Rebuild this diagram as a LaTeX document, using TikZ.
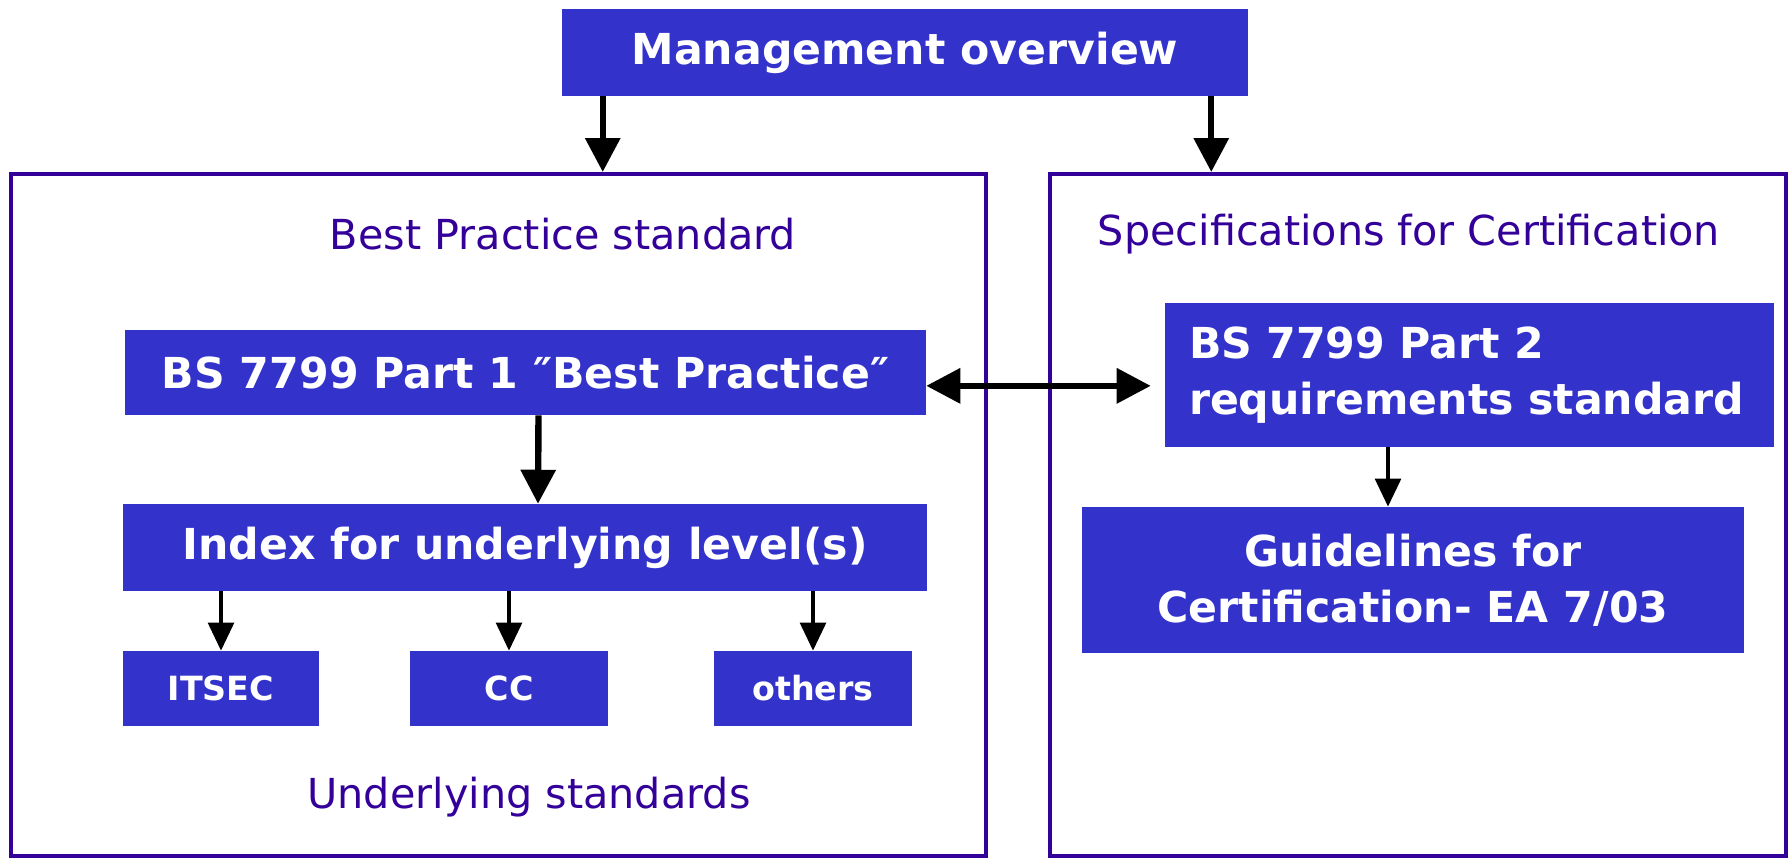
\documentclass[tikz,border=0pt]{standalone}
\usepackage{fontspec}
\setmainfont{DejaVu Sans}
\usetikzlibrary{arrows.meta}
\definecolor{boxblue}{HTML}{3333CC}
\definecolor{framecol}{HTML}{330099}
\begin{document}
\begin{tikzpicture}
[x=0.75pt,y=-0.75pt,
frame/.style ={rectangle, draw=framecol, line width=3pt, inner sep=0pt},
title/.style ={text=framecol, font=\fontsize{31}{38}\selectfont, inner sep=0pt},
block/.style ={rectangle, fill=boxblue, text=white, inner sep=0pt,
font=\bfseries\fontsize{32}{42}\selectfont, align=center},
smallblock/.style ={rectangle, fill=boxblue, text=white, inner sep=0pt,
font=\bfseries\fontsize{25}{30}\selectfont,
minimum height=56.25pt},
bigarrow/.style ={draw, line width=4.8pt, -{Triangle[length=25.5pt,width=25.5pt]}},
dblarrow/.style ={draw, line width=4.8pt,
{Triangle[length=25.5pt,width=25.5pt]}-{Triangle[length=25.5pt,width=25.5pt]}},
smallarrow/.style ={draw, line width=3.4pt, -{Triangle[length=21pt,width=19pt]}}]
\useasboundingbox (0,0) rectangle (1792,858);
% the two frames
\node [frame, minimum width=731.25pt, minimum height=511.5pt] (lframe) at (498.5,515) {};
\node [frame, minimum width=552pt, minimum height=511.5pt] (rframe) at (1418,515) {};
\node [title] (bptitle) at (563,234) {Best Practice standard};
\node [title] (sctitle) at (1409,234) {Specifications for Certification};
\node [title] (undstd)  at (529,797) {Underlying standards};
% top
\node [block, minimum width=514.5pt, minimum height=65.25pt] (mgmt) at (905,52.5) {Management overview};
% left side
\node [block, minimum width=600.75pt, minimum height=63.75pt] (bpone) at (525.5,372.5) {BS 7799 Part 1 ″Best Practice″};
\node [block, minimum width=603pt, minimum height=65.25pt] (index) at (525,547.5) {Index for underlying level(s)};
\node [smallblock, minimum width=147pt]   (itsec)  at (221,688.5) {ITSEC};
\node [smallblock, minimum width=148.5pt] (cc)     at (509,688.5) {CC};
\node [smallblock, minimum width=148.5pt] (others) at (813,688.5) {others};
% right side
\node [block, minimum width=456.75pt, minimum height=108pt, align=left,
text width=420.75pt, inner xsep=18pt] (bptwo) at (1469.5,375)
{BS 7799 Part 2\\requirements standard};
\node [block, minimum width=496.5pt, minimum height=109.5pt] (guide) at (1413,580)
{Guidelines for\\Certification- EA 7/03};
% helper points for the off-centre connectors
\coordinate (mgl) at ([xshift=30.75pt]mgmt.south west);
\coordinate (mgr) at ([xshift=-27.75pt]mgmt.south east);
\coordinate (bpl) at ([yshift=-10pt]bpone.east);
\coordinate (gdt) at ([xshift=-18.75pt]guide.north);
\coordinate (bpr) at ([xshift=-10.5pt]bptwo.west);
% connectors
\path [bigarrow] (mgl) -- (mgl |- lframe.north);
\path [bigarrow] (mgr) -- (mgr |- rframe.north);
\path [bigarrow] ([xshift=9.75pt]bpone.south) -- ([xshift=9.75pt]index.north);
\path [dblarrow] (bpl) -- (bpl -| bpr);
\path [smallarrow] (index.south -| itsec.north) -- (itsec.north);
\path [smallarrow] (index.south -| cc.north) -- (cc.north);
\path [smallarrow] (index.south -| others.north) -- (others.north);
\path [smallarrow] (gdt |- bptwo.south) -- (gdt);
\end{tikzpicture}
\end{document}
